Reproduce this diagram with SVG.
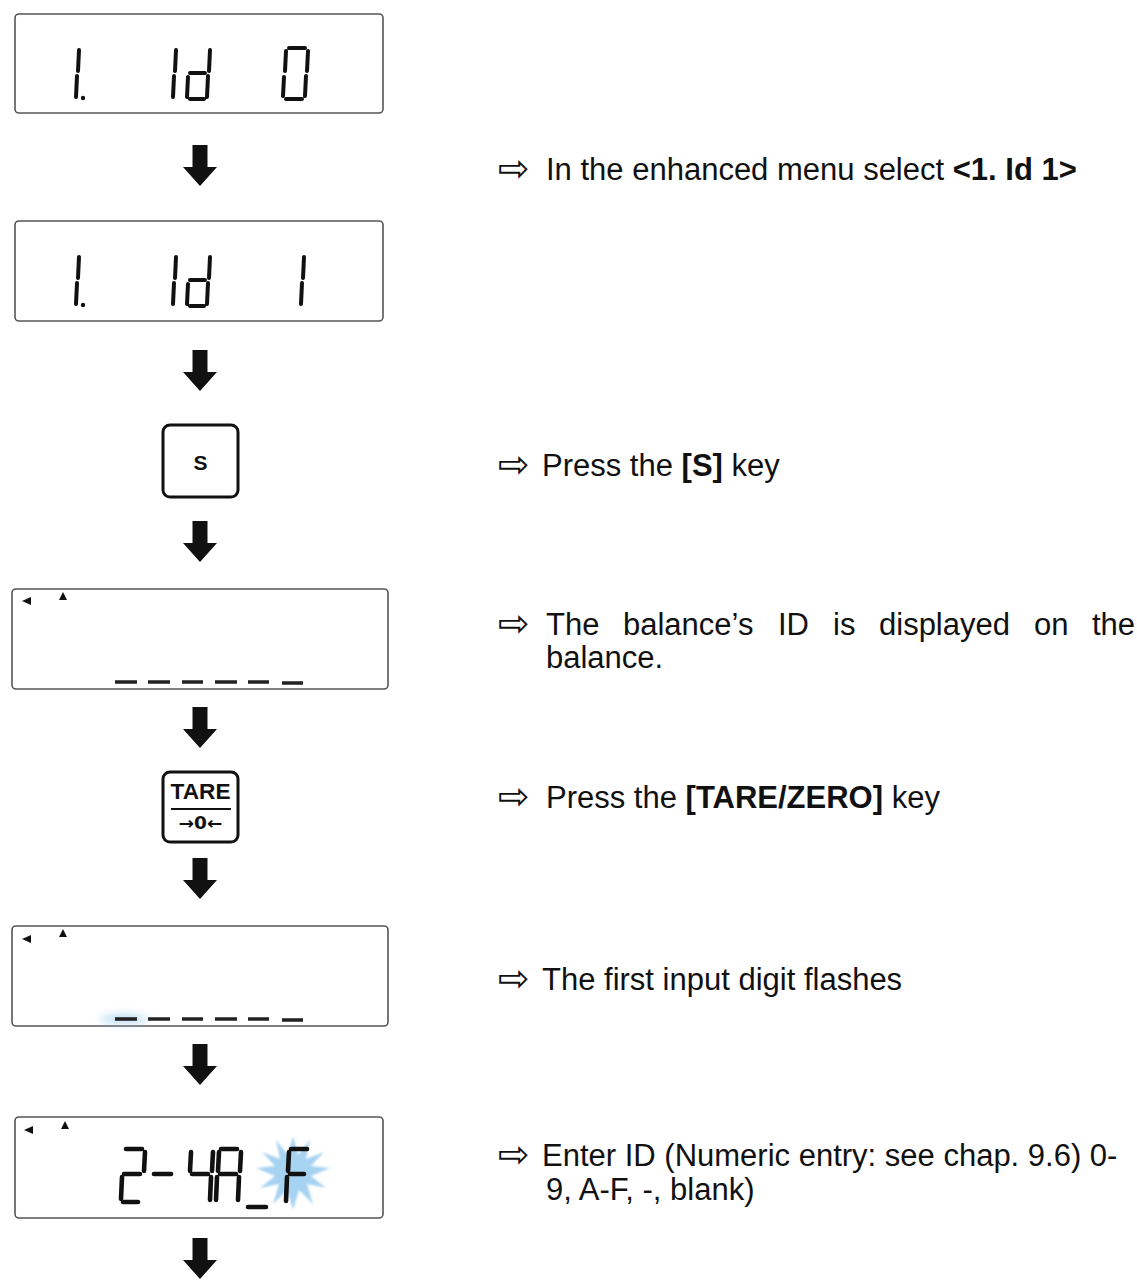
<svg xmlns="http://www.w3.org/2000/svg" width="1137" height="1287" viewBox="0 0 1137 1287">
<style>
.disp{fill:#fff;stroke:#555;stroke-width:1.6}
.seg{fill:none;stroke:#111;stroke-width:4;stroke-linecap:round}
.segL{fill:none;stroke:#111;stroke-width:4.6;stroke-linecap:round}
.dash{stroke:#222;stroke-width:3.6}
.key{fill:#fff;stroke:#111;stroke-width:3}
.tri{fill:#111}
.lbl{font-family:"Liberation Sans",Arial,sans-serif;font-size:31px;fill:#111}
.b{font-weight:bold}
.ar{font-family:"DejaVu Sans",sans-serif;font-size:38px;fill:#111}
</style>
<defs>
<path id="down" d="M-7.5,0 H7.5 V22 H17 L0,41 L-17,22 H-7.5 Z" fill="#111"/>
<filter id="blur" x="-50%" y="-50%" width="200%" height="200%"><feGaussianBlur stdDeviation="1"/></filter>
<filter id="blur2" x="-50%" y="-200%" width="200%" height="500%"><feGaussianBlur stdDeviation="4"/></filter>
</defs>

<g id="display1">
<rect class="disp" x="15" y="14" width="368" height="99" rx="4"/>
<path class="seg" d="M79,50 L78,71 M77,76 L76,97 M176,50 L175,71 M174,76 L173,97 M210,50 L209,71 M208,76 L207,97 M190,73 L205,73 M188,77 L187,97 M190,99 L204,99 M289,48 L305,48 M308,51 L307,71 M306,76 L305,96 M286,99 L302,99 M283,96 L284,77 M285,71 L286,51"/>
<circle cx="83" cy="98" r="2.2" fill="#111"/>
</g>

<g id="display2">
<rect class="disp" x="15" y="221" width="368" height="100" rx="4"/>
<path class="seg" d="M79,257 L78,278 M77,283 L76,304 M176,257 L175,278 M174,283 L173,304 M210,257 L209,278 M208,283 L207,304 M190,280 L205,280 M188,284 L187,304 M190,306 L204,306 M304,257 L303,278 M302,283 L301,304"/>
<circle cx="83" cy="305" r="2.2" fill="#111"/>
</g>

<g id="keyS">
<rect class="key" x="163" y="425" width="75" height="72" rx="7"/>
<text x="200.5" y="470" text-anchor="middle" font-family="Liberation Sans,Arial,sans-serif" font-weight="bold" font-size="21" fill="#111">S</text>
</g>

<g id="display3">
<rect class="disp" x="12" y="589" width="376" height="100" rx="4"/>
<polygon class="tri" points="22,601 31,597 31,605"/>
<polygon class="tri" points="63,592 67,600 59,600"/>
<path class="dash" d="M115,682 H137 M148,682 H170 M182,682 H203 M215,682 H237 M248,682 H269 M282,683 H303"/>
</g>

<g id="keyTare">
<rect class="key" x="163" y="772" width="75" height="70" rx="7"/>
<text x="200.5" y="799" text-anchor="middle" font-family="Liberation Sans,Arial,sans-serif" font-weight="bold" font-size="22" fill="#111" textLength="60" lengthAdjust="spacingAndGlyphs">TARE</text>
<line x1="171" y1="809" x2="231" y2="809" stroke="#111" stroke-width="2"/>
<text x="200.5" y="829" text-anchor="middle" font-family="DejaVu Sans,sans-serif" font-weight="bold" font-size="17" fill="#111" textLength="44" lengthAdjust="spacingAndGlyphs">→0←</text>
</g>

<g id="display4">
<rect class="disp" x="12" y="926" width="376" height="100" rx="4"/>
<polygon class="tri" points="22,939 31,935 31,943"/>
<polygon class="tri" points="63,929 67,937 59,937"/>
<ellipse cx="124" cy="1019" rx="24" ry="4" fill="#7fbfe8" opacity="0.6" filter="url(#blur2)"/>
<path class="dash" d="M115,1019 H137" stroke="#2d4a5c"/>
<path class="dash" d="M148,1019 H170 M182,1019 H203 M215,1019 H237 M248,1019 H269 M282,1020 H303"/>
</g>

<g id="display5">
<rect class="disp" x="15" y="1117" width="368" height="101" rx="4"/>
<polygon class="tri" points="24,1130 33,1126 33,1134"/>
<polygon class="tri" points="65,1121 69,1129 61,1129"/>
<polygon fill="#a6d3f1" filter="url(#blur)" points="293,1136 298,1155 310,1140 306,1159 324,1152 311,1166 330,1168 311,1176 326,1188 307,1184 313,1204 299,1190 293,1210 287,1190 273,1204 279,1184 260,1188 275,1176 256,1168 275,1166 262,1152 280,1159 276,1140 288,1155"/>
<path class="segL" d="M126,1149 L142,1149 M145,1152 L144,1171 M124,1174 L140,1174 M122,1177 L121,1199 M123,1202 L138,1202 M154,1174 L171,1174 M191,1152 L190,1171 M192,1174 L208,1174 M213,1152 L212,1171 M211,1177 L210,1200 M221,1149 L237,1149 M219,1152 L218,1171 M217,1177 L216,1200 M220,1174 L236,1174 M241,1152 L240,1171 M239,1177 L238,1200 M248,1207 L266,1207 M289,1152 L288,1171 M287,1177 L286,1201 M291,1149 L307,1149 M290,1174 L304,1174"/>
</g>

<g id="connectors">
<use href="#down" x="200" y="145"/>
<use href="#down" x="200" y="350"/>
<use href="#down" x="200" y="521"/>
<use href="#down" x="200" y="707"/>
<use href="#down" x="200" y="858"/>
<use href="#down" x="200" y="1044"/>
<use href="#down" x="200" y="1238"/>
</g>

<g id="label1">
<text class="ar" x="498" y="181">⇨</text>
<text class="lbl" x="546" y="180">In the enhanced menu select <tspan class="b">&lt;1. Id 1&gt;</tspan></text>
</g>
<g id="label2">
<text class="ar" x="498" y="477">⇨</text>
<text class="lbl" x="542" y="476">Press the <tspan class="b">[S]</tspan> key</text>
</g>
<g id="label3">
<text class="ar" x="498" y="636">⇨</text>
<text class="lbl" y="635"><tspan x="546">The</tspan><tspan x="623">balance’s</tspan><tspan x="778">ID</tspan><tspan x="833">is</tspan><tspan x="879">displayed</tspan><tspan x="1034">on</tspan><tspan x="1092">the</tspan></text>
<text class="lbl" x="546" y="668">balance.</text>
</g>
<g id="label4">
<text class="ar" x="498" y="809">⇨</text>
<text class="lbl" x="546" y="808">Press the <tspan class="b">[TARE/ZERO]</tspan> key</text>
</g>
<g id="label5">
<text class="ar" x="498" y="991">⇨</text>
<text class="lbl" x="542" y="990">The first input digit flashes</text>
</g>
<g id="label6">
<text class="ar" x="498" y="1167">⇨</text>
<text class="lbl" x="542" y="1166">Enter ID (Numeric entry: see chap. 9.6) 0-</text>
<text class="lbl" x="546" y="1200">9, A-F, -, blank)</text>
</g>
</svg>
